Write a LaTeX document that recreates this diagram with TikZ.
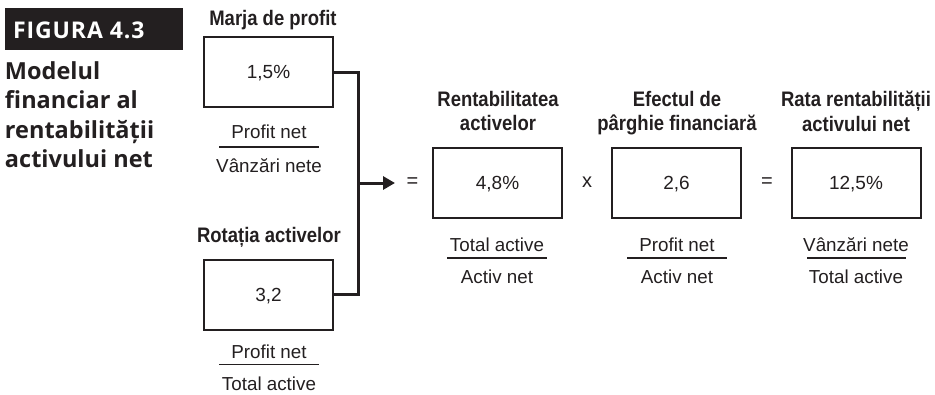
\documentclass[tikz,border=0pt]{standalone}
\usepackage{fontspec}
\setmainfont{Liberation Sans}
\newfontfamily\condfont[FakeStretch=0.88]{Liberation Sans}
\newfontfamily\capfont{Open Sans}
\usetikzlibrary{arrows.meta}
\definecolor{ink}{RGB}{35,31,32}

\begin{document}
\begin{tikzpicture}[x=1pt,y=-1pt,
  every node/.style={inner sep=0pt, outer sep=0pt, text=ink},
  figtag/.style={font=\capfont\bfseries\fontsize{23}{23}\selectfont\addfontfeatures{LetterSpace=4}, text=white, anchor=base west},
  headline/.style={font=\capfont\bfseries\fontsize{23.5}{23.5}\selectfont, anchor=base west},
  title/.style={font=\condfont\bfseries\fontsize{21}{21}\selectfont, anchor=base},
  valuebox/.style={draw=ink, line width=2pt, minimum width=129pt, minimum height=70pt,
    font=\fontsize{19}{19}\selectfont, text depth=0pt},
  ratio/.style={font=\fontsize{18.8}{18.8}\selectfont, anchor=base},
  op/.style={font=\fontsize{20}{20}\selectfont},
  fracline/.style={draw=ink, line width=1.2pt},
  conn/.style={draw=ink, line width=3pt},
]
\useasboundingbox (0,0) rectangle (935,394);

% figure tag and caption
\fill[ink] (5,8) rectangle (183,50);
\node[figtag] (tag) at (13,38) {FIGURA 4.3};
\node[headline] (h1) at (5,79) {Modelul};
\node[headline] (h2) at (5,108.5) {financiar al};
\node[headline] (h3) at (5,138) {rentabilității};
\node[headline] (h4) at (5,167.5) {activului net};

% profit margin
\node[title] (tm) at (273,25) {Marja de profit};
\node[valuebox] (m) at (268.5,72) {1,5\%};
\node[ratio] (mn) at (269,138) {Profit net};
\draw[fracline] (219,147) -- (319,147);
\node[ratio] (md) at (269,172) {Vânzări nete};

% asset turnover
\node[title] (tr) at (269,242) {Rotația activelor};
\node[valuebox] (r) at (268.5,294.5) {3,2};
\node[ratio] (rn) at (269,358) {Profit net};
\draw[fracline] (219,364.5) -- (319,364.5);
\node[ratio] (rd) at (269,390) {Total active};

% joining connector and arrow
\coordinate (jx) at (358.5,183);
\coordinate (tip) at (395,183);
\draw[conn] (m.east) -| (jx) |- (r.east);
\draw[conn,-{Triangle[length=12pt,width=13pt]}] (jx) -- (tip);

\node[op] (eq1) at (412.5,182.5) {=};

% return on assets
\node[title] (ta1) at (498,106) {Rentabilitatea};
\node[title] (ta2) at (498,130) {activelor};
\node[valuebox] (a) at (497.5,183) {4,8\%};
\node[ratio] (an) at (497,251) {Total active};
\draw[fracline] (447,258) -- (547,258);
\node[ratio] (ad) at (497,283) {Activ net};

\node[op] (mul) at (587,182.5) {x};

% financial leverage
\node[title] (tl1) at (677,106) {Efectul de};
\node[title] (tl2) at (677,130) {pârghie financiară};
\node[valuebox] (l) at (676.5,183) {2,6};
\node[ratio] (ln) at (677,251) {Profit net};
\draw[fracline] (627,258) -- (727,258);
\node[ratio] (ld) at (677,283) {Activ net};

\node[op] (eq2) at (767,182.5) {=};

% return on net assets
\node[title] (tn1) at (856,106) {Rata rentabilității};
\node[title] (tn2) at (856,131) {activului net};
\node[valuebox] (n) at (856,183) {12,5\%};
\node[ratio] (nn) at (856,251) {Vânzări nete};
\draw[fracline] (807,258) -- (906,258);
\node[ratio] (nd) at (856,283) {Total active};
\end{tikzpicture}
\end{document}
